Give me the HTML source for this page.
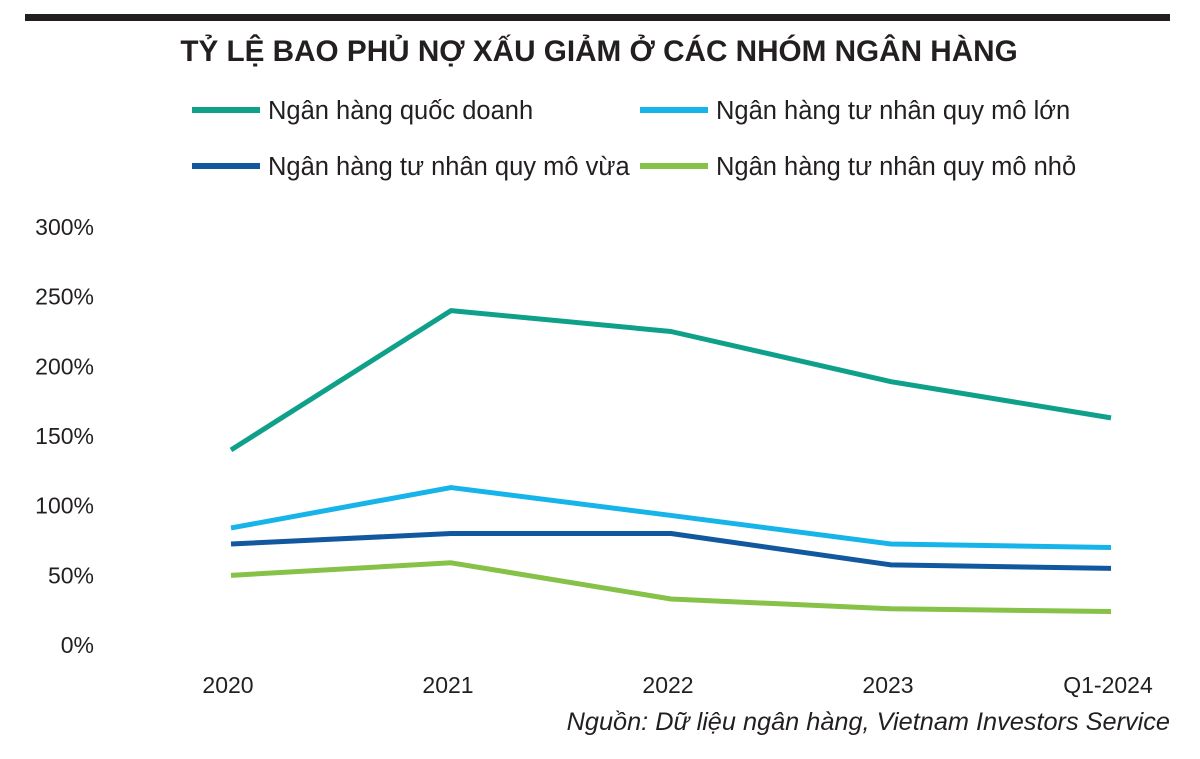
<!DOCTYPE html>
<html><head><meta charset="utf-8"><style>
body{margin:0;background:#fff;}
svg text{font-family:"Liberation Sans","DejaVu Sans",sans-serif;}
</style></head><body>
<svg id="chart" width="1200" height="754" xmlns="http://www.w3.org/2000/svg">
<rect x="25" y="14" width="1145" height="7" fill="#231f20"/>
<text x="599" y="61" text-anchor="middle" font-size="29.7" font-weight="bold" fill="#231f20">TỶ LỆ BAO PHỦ NỢ XẤU GIẢM Ở CÁC NHÓM NGÂN HÀNG</text>
<g id="legend"></g>
<g id="yaxis"></g>
<g id="xaxis"></g>
<g id="series"></g>
<text x="1170" y="730" text-anchor="end" font-size="25.3" font-style="italic" fill="#231f20">Nguồn: Dữ liệu ngân hàng, Vietnam Investors Service</text>
</svg>
<script>
const categories = ["2020","2021","2022","2023","Q1-2024"];
const yTicks = [0,50,100,150,200,250,300];
const seriesNames = ["Ngân hàng quốc doanh","Ngân hàng tư nhân quy mô lớn","Ngân hàng tư nhân quy mô vừa","Ngân hàng tư nhân quy mô nhỏ"];
const stateOwned = [140,240,225,189,163];
const privateLarge = [84,113,93,72.5,70];
const privateMedium = [72.5,80,80,57.5,55];
const privateSmall = [50,59,33,26,24];
const seriesValues = [stateOwned, privateLarge, privateMedium, privateSmall];
const colors = ["#0fa08a","#17b4ea","#12589e","#86c247"];
const ns="http://www.w3.org/2000/svg";
function yS(v){return 645 - v/300*(645-227);}
function xS(i){return 231 + i*(1111-231)/(categories.length-1);}
function mk(tag,attrs,parent){const e=document.createElementNS(ns,tag);for(const k in attrs)e.setAttribute(k,attrs[k]);parent.appendChild(e);return e;}
const ya=document.getElementById('yaxis');
yTicks.forEach(t=>{const e=mk('text',{x:94,y:yS(t)+8,'text-anchor':'end','font-size':23,fill:'#231f20'},ya);
e.textContent=t+'%';

});
const xa=document.getElementById('xaxis');
categories.forEach((c,i)=>{const e=mk('text',{x:xS(i)-3,y:693,'text-anchor':'middle','font-size':23,fill:'#231f20'},xa);
e.textContent=c;

});
const sg=document.getElementById('series');
seriesValues.forEach((vals,s)=>{const p=mk('polyline',{points:vals.map((v,i)=>xS(i)+','+yS(v)).join(' '),fill:'none',stroke:colors[s],'stroke-width':5,'stroke-linejoin':'round'},sg);

});
const lg=document.getElementById('legend');
const lpos=[[192,110],[640,110],[192,166],[640,166]];
seriesNames.forEach((n,s)=>{const [x,y]=lpos[s];
const l=mk('line',{x1:x,y1:y,x2:x+68,y2:y,stroke:colors[s],'stroke-width':6},lg);


const t=mk('text',{x:x+76,y:y+9,'font-size':25.5,fill:'#231f20'},lg);
t.textContent=n;

});
</script>
</body></html>
